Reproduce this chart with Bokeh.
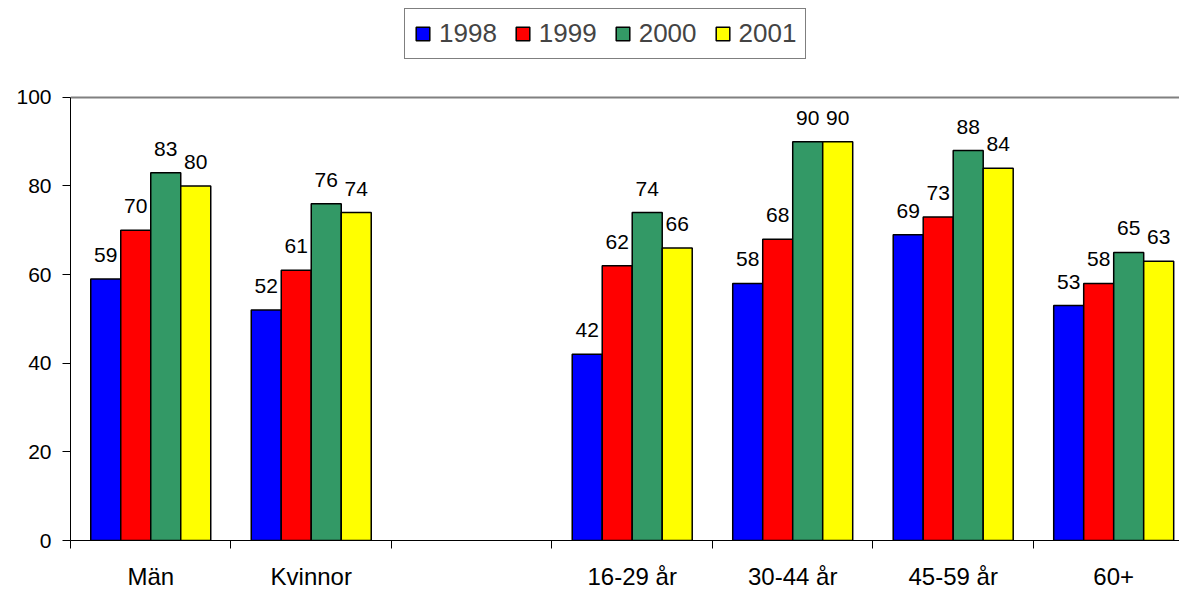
from bokeh.plotting import figure
from bokeh.models import ColumnDataSource, FixedTicker, Legend, LegendItem, Range1d
from bokeh.embed import file_html
from bokeh.resources import INLINE
from bokeh.core.properties import value

categories = ["Män", "Kvinnor", "", "16-29 år", "30-44 år", "45-59 år", "60+"]
years = ["1998", "1999", "2000", "2001"]
v1998 = [59, 52, None, 42, 58, 69, 53]
v1999 = [70, 61, None, 62, 68, 73, 58]
v2000 = [83, 76, None, 74, 90, 88, 65]
v2001 = [80, 74, None, 66, 90, 84, 63]
series = [v1998, v1999, v2000, v2001]
colors = ["#0000FF", "#FF0000", "#339966", "#FFFF00"]
y_ticks = [0, 20, 40, 60, 80, 100]

FONT = "Liberation Sans"
n = len(categories)
bar_w = 30 / 160.5
centers = [i + 0.5 for i in range(n)]
boundaries = list(range(n))

# frame spans the full figure height; the value axis is bounded to 0..100
p = figure(width=1179, height=592, output_backend="svg", toolbar_location=None,
           x_range=Range1d(0, 6.91), y_range=Range1d(0, 121.85),
           min_border_left=70, min_border_right=0, min_border_top=0, min_border_bottom=51)
p.outline_line_color = None
p.background_fill_color = "white"
p.border_fill_color = "white"

items = []
for k, (vals, col, yr) in enumerate(zip(series, colors, years)):
    off = (k - 1.5) * bar_w
    xs, ys, ts = [], [], []
    for i, v in enumerate(vals):
        if v is None:
            continue
        xs.append(centers[i] + off)
        ys.append(v)
        ts.append(str(v))
    src = ColumnDataSource(dict(x=xs, top=ys, label=ts))
    r = p.vbar(x="x", top="top", width=bar_w, bottom=0, source=src,
               fill_color=col, line_color="black", line_width=1.5)
    p.text(x="x", y="top", text="label", source=src, text_align="center",
           text_baseline="middle", y_offset=-24, text_font=value(FONT),
           text_font_size="21px", text_color="black")
    items.append(LegendItem(label=yr, renderers=[r]))

# category axis: labels at centres, tick marks at the boundaries
p.xaxis.ticker = FixedTicker(ticks=centers, minor_ticks=boundaries)
p.xaxis.major_label_overrides = {c: lab for c, lab in zip(centers, categories)}
p.xaxis.major_tick_line_color = None
p.xaxis.major_tick_out = 0
p.xaxis.major_tick_in = 0
p.xaxis.minor_tick_line_color = "black"
p.xaxis.minor_tick_out = 8
p.xaxis.minor_tick_in = 0
p.xaxis.major_label_standoff = 14
p.xaxis.axis_line_color = "black"
p.xaxis.major_label_text_font = FONT
p.xaxis.major_label_text_font_size = "24px"
p.xaxis.major_label_text_color = "black"

p.yaxis.ticker = FixedTicker(ticks=y_ticks)
p.yaxis.bounds = (0, 100)
p.yaxis.major_tick_out = 8
p.yaxis.major_tick_in = 0
p.yaxis.major_tick_line_color = "black"
p.yaxis.minor_tick_line_color = None
p.yaxis.major_label_standoff = 11
p.yaxis.axis_line_color = "black"
p.yaxis.major_label_text_font = FONT
p.yaxis.major_label_text_font_size = "21px"
p.yaxis.major_label_text_color = "black"

p.xgrid.visible = False
p.ygrid.ticker = FixedTicker(ticks=[100])
p.ygrid.grid_line_color = "#808080"
p.ygrid.grid_line_width = 2

legend = Legend(items=items, orientation="horizontal", location=(334, 481),
                label_text_font=FONT, label_text_font_size="26px",
                glyph_width=17, glyph_height=17, label_standoff=8, spacing=17,
                padding=9, border_line_color="black", border_line_width=1.5,
                background_fill_alpha=1.0, margin=0)
p.add_layout(legend, "center")

open("out.html", "w").write(file_html(p, INLINE))
